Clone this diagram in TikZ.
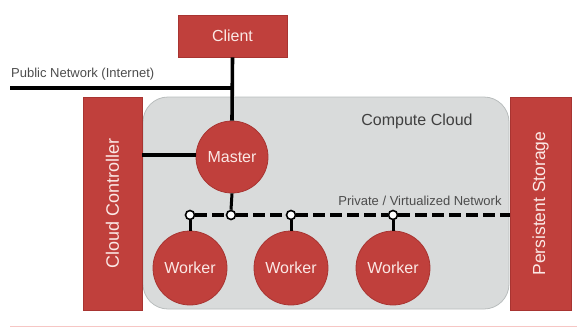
\documentclass[tikz,border=0pt]{standalone}
\usepackage{fontspec}
\setmainfont{Liberation Sans}
\usepackage{tikz}
\usetikzlibrary{positioning, calc}
\definecolor{boxred}{HTML}{C0403C}
\definecolor{edgered}{HTML}{A83431}
\definecolor{boxtext}{HTML}{FBE8E5}
\definecolor{cloudfill}{HTML}{D9DBDB}
\definecolor{cloudedge}{HTML}{B9BDBD}
\definecolor{pinkline}{HTML}{F6C6C4}
\tikzset{
    redbox/.style={draw=edgered, fill=boxred, text=boxtext, inner sep=0pt, line width=0.6pt},
    redball/.style={circle, draw=edgered, fill=boxred, text=boxtext, inner sep=0pt,
        minimum size=74pt, line width=0.8pt, font=\fontsize{16}{18}\selectfont},
    tap/.style={circle, draw=black, fill=white, inner sep=0pt, minimum size=9pt, line width=1.6pt},
    wire/.style={line width=3.6pt},
    privwire/.style={line width=3.6pt, dash pattern=on 12pt off 5pt},
    netlabel/.style={font=\fontsize{13}{15}\selectfont, text=black!70},
}

\begin{document}
\begin{tikzpicture}[x=1pt, y=-1pt]
    \useasboundingbox (0,0) rectangle (577,327);

    % Cloud
    \node[draw=cloudedge, fill=cloudfill, rounded corners=25pt, line width=0.8pt,
        minimum width=366pt, minimum height=212pt, inner sep=0pt] (cloud) at (326,203) {};
    \node[font=\fontsize{16}{18}\selectfont, text=black!75] (cloudlab) at (417,121) {Compute Cloud};

    % Boxes
    \node[redbox, minimum width=109pt, minimum height=42pt, font=\fontsize{16}{18}\selectfont] (client) at (232.5,36) {Client};
    \node[redbox, minimum width=59pt, minimum height=213pt] (ctrl) at (112.5,203.5) {};
    \node[rotate=90, text=boxtext, font=\fontsize{18}{20}\selectfont] (ctrllab) at (ctrl) {Cloud Controller};
    \node[redbox, minimum width=61pt, minimum height=213pt] (store) at (540.5,203.5) {};
    \node[rotate=90, text=boxtext, font=\fontsize{17.5}{20}\selectfont] (storelab) at (store) {Persistent Storage};

    % Master and workers
    \node[redball, minimum size=72pt] (master) at (232,157) {Master};
    \foreach \x/\n in {190/w1, 291/w2, 393/w3} {
        \node[redball] (\n) at (\x,268) {Worker};
    }

    % Public network
    \coordinate (pubend) at (10,88);
    \coordinate (pubjoin) at (232,88);
    \node[netlabel, anchor=south west, inner sep=0pt] (publab) at (11,80) {Public Network (Internet)};
    \draw[wire] (pubend) -- (pubjoin);
    \draw[wire] (client.south) -- (master.north);
    \draw[wire] (ctrl.east |- 0,155) -- (master.west |- 0,155);

    % Private network
    \node[tap] (t0) at (231,215) {};
    \foreach \x/\n in {190/w1, 291/w2, 393/w3} {
        \node[tap] (t\n) at (\x,215) {};
    }
    \draw[privwire] (tw1.east) -- (t0.west);
    \draw[privwire] (t0.east) -- (tw2.west);
    \draw[privwire] (tw2.east) -- (tw3.west);
    \draw[privwire] (tw3.east) -- (tw3 -| store.west);
    \draw[line width=3pt] (master.south) -- (t0.north);
    \foreach \n in {w1, w2, w3} {
        \draw[line width=3pt] (t\n.south) -- (\n.north);
    }
    \node[netlabel, anchor=south, inner sep=0pt] (privlab) at (420,206) {Private / Virtualized Network};

    % Bottom rule
    \draw[pinkline, line width=1pt] (10,326) -- (577,326);
\end{tikzpicture}
\end{document}
